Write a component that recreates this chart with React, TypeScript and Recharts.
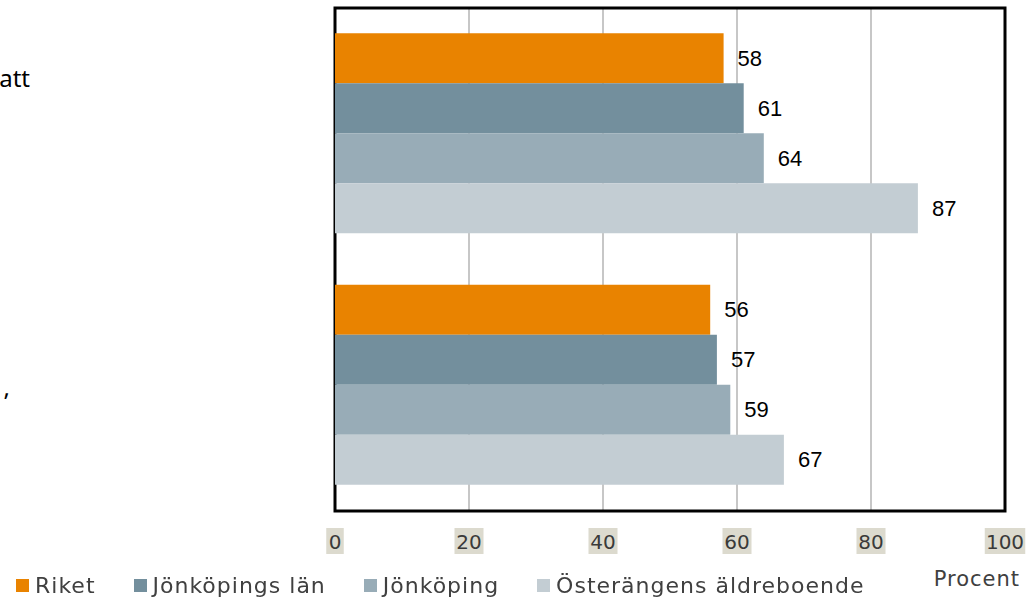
import { BarChart, Bar, XAxis, YAxis, CartesianGrid, LabelList, Legend, ReferenceArea } from "recharts";

const categories = ["att", ","];
const riket = [58, 56];
const jkpLan = [61, 57];
const jkp = [64, 59];
const osterangen = [87, 67];
const xTicks = [0, 20, 40, 60, 80, 100];

const SERIES = [
  { key: "riket", name: "Riket", color: "#E98300" },
  { key: "jkpLan", name: "Jönköpings län", color: "#738F9D" },
  { key: "jkp", name: "Jönköping", color: "#98ACB7" },
  { key: "osterangen", name: "Österängens äldreboende", color: "#C3CDD3" },
];

const data = categories.map((name, i) => ({
  name,
  riket: riket[i],
  jkpLan: jkpLan[i],
  jkp: jkp[i],
  osterangen: osterangen[i],
}));

const LEGEND_FONT = "'DejaVu Sans', sans-serif";

// category labels are cut off at the left edge of the slide
function CategoryTick({ y, payload, index }: any) {
  const dy = index === 0 ? -47 : 11;
  const x = index === 0 ? 30 : 10;
  return (
    <text x={x} y={y + dy} textAnchor="end" fontFamily="'Noto Sans', sans-serif" fontSize={24} fill="#000">
      {payload.value}
    </text>
  );
}

function ValueTick({ x, y, payload }: any) {
  const label = String(payload.value);
  const w = label.length * 11.5 + 6;
  return (
    <g>
      <rect x={x - w / 2} y={y + 17} width={w} height={26} fill="#DCDACE" />
      <text x={x} y={y + 38} textAnchor="middle" fontFamily={LEGEND_FONT} fontSize={20} fill="#3a3a3a">
        {label}
      </text>
    </g>
  );
}

function LegendContent() {
  return (
    <div
      style={{
        display: "flex",
        alignItems: "center",
        fontFamily: LEGEND_FONT,
        fontSize: 22,
        letterSpacing: 1,
        color: "#404040",
      }}
    >
      {SERIES.map((s) => (
        <div key={s.key} style={{ display: "flex", alignItems: "center", marginRight: 38 }}>
          <span style={{ display: "inline-block", width: 13, height: 13, background: s.color, marginRight: 6 }} />
          <span>{s.name}</span>
        </div>
      ))}
    </div>
  );
}

export default function App() {
  return (
    <div style={{ position: "fixed", left: 0, top: 0, width: 1030, height: 602, background: "#fff" }}>
      <BarChart
        width={1030}
        height={602}
        data={data}
        layout="vertical"
        margin={{ top: 8, right: 25, bottom: 0, left: 0 }}
        barCategoryGap="10%"
        barGap={0}
      >
        <CartesianGrid horizontal={false} stroke="#B5B5B5" strokeWidth={1.5} />
        <XAxis
          type="number"
          domain={[0, 100]}
          ticks={xTicks}
          height={91}
          axisLine={false}
          tickLine={false}
          tickSize={0}
          tickMargin={0}
          tick={<ValueTick />}
          interval={0}
          label={({ viewBox }: any) => (
            <text
              x={viewBox.x + viewBox.width + 15}
              y={viewBox.y + 75}
              textAnchor="end"
              fontFamily={LEGEND_FONT}
              fontSize={21}
              letterSpacing={1}
              fill="#404040"
            >
              Procent
            </text>
          )}
        />
        <YAxis
          type="category"
          dataKey="name"
          width={335}
          axisLine={false}
          tickLine={false}
          tick={<CategoryTick />}
        />
        {SERIES.map((s) => (
          <Bar key={s.key} dataKey={s.key} name={s.name} fill={s.color} isAnimationActive={false}>
            <LabelList
              dataKey={s.key}
              position="right"
              offset={14}
              fill="#000"
              fontSize={22}
              fontFamily="'Liberation Sans', Arial, sans-serif"
            />
          </Bar>
        ))}
        <ReferenceArea x1={0} x2={100} fill="none" stroke="#000" strokeWidth={3} ifOverflow="visible" />
        <Legend
          layout="vertical"
          align="center"
          verticalAlign="middle"
          content={<LegendContent />}
          wrapperStyle={{ position: "absolute", left: 16, top: 573, width: 1000, height: 30 }}
        />
      </BarChart>
    </div>
  );
}
